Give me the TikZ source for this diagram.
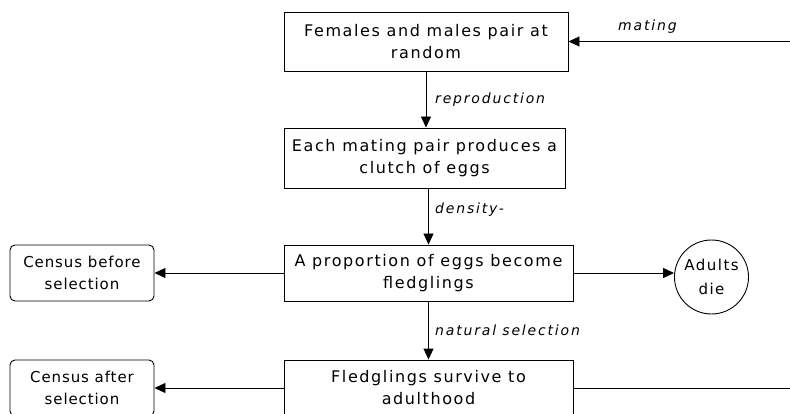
\documentclass[tikz,border=0pt]{standalone}
\usepackage{fontspec}
\usetikzlibrary{arrows.meta,positioning}
\newfontfamily\boxfont[LetterSpace=10]{DejaVu Sans}
\newfontfamily\censusfont[LetterSpace=6]{DejaVu Sans}
\newfontfamily\notefont[LetterSpace=13]{DejaVu Sans}

\begin{document}
\begin{tikzpicture}[x=1pt,y=1pt,
  stage/.style={draw,line width=0.9pt,align=center,inner sep=0pt,
    font=\boxfont\fontsize{16}{22}\selectfont},
  census/.style={stage,rounded corners=5pt,
    font=\censusfont\fontsize{15}{22}\selectfont},
  note/.style={anchor=west,inner sep=0pt,
    font=\notefont\itshape\fontsize{14}{16}\selectfont},
  flow/.style={line width=0.9pt,-{Triangle[length=11pt,width=10pt]}}]
\useasboundingbox (0,0) rectangle (790,-414);
% main chain
\node[stage,minimum width=284,minimum height=59] (pair) at (426,-41.5) {Females and males pair at\\random};
\node[stage,minimum width=281,minimum height=60] (clutch) at (424.5,-158) {Each mating pair produces a\\clutch of eggs};
\node[stage,minimum width=289,minimum height=56] (fledge) at (428.5,-273) {A proportion of eggs become\\fledglings};
\node[stage,minimum width=289,minimum height=56] (adult) at (428.5,-388) {Fledglings survive to\\adulthood};
% side nodes
\node[census,minimum width=144,minimum height=56] (before) at (82,-273) {Census before\\selection};
\node[census,minimum width=144,minimum height=56] (after) at (82,-388) {Census after\\selection};
\node[stage,circle,minimum size=74,font=\boxfont\fontsize{15}{24}\selectfont] (die) at (711.5,-277) {Adults\\die};
\coordinate (ret) at (800,0);
% arrows
\draw[flow] (pair.south) -- (pair.south |- clutch.north);
\draw[flow] (clutch.south -| fledge.north) -- (fledge.north);
\draw[flow] (fledge.south) -- (adult.north);
\draw[flow] (fledge.west) -- (before.east);
\draw[flow] (adult.west) -- (after.east);
\draw[flow] (fledge.east) -- (fledge.east -| die.west);
\draw[flow] (adult.east) -- (adult.east -| ret) -- (pair.east -| ret) -- (pair.east);
% labels
\node[note] (mating) at (618,-27) {mating};
\node[note] (repro) at (435,-100) {reproduction};
\node[note] (dens) at (435,-210) {density-};
\node[note] (natsel) at (435,-330) {natural selection};
\end{tikzpicture}
\end{document}
